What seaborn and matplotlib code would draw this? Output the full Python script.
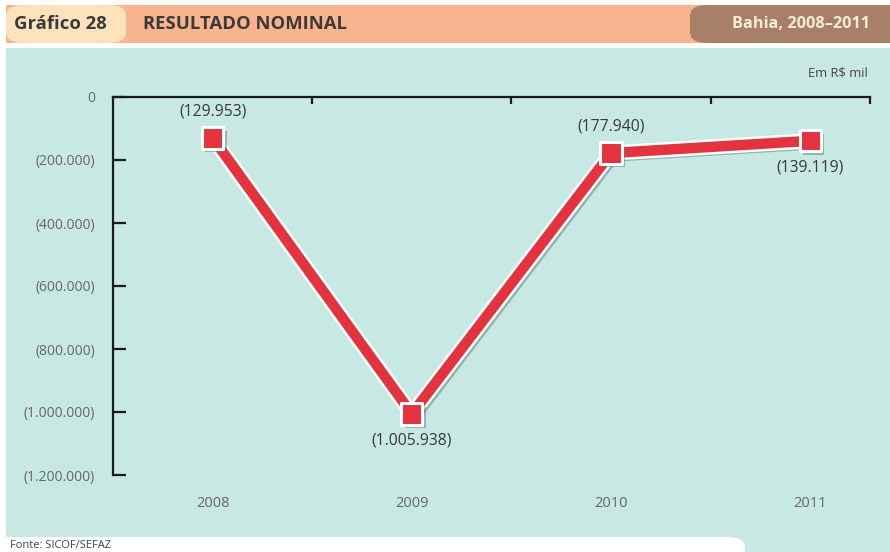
import matplotlib
matplotlib.use("Agg")
import matplotlib.pyplot as plt
import matplotlib.patheffects as pe
from matplotlib.patches import FancyBboxPatch, Rectangle
from matplotlib import font_manager
import seaborn as sns
import pandas as pd

# Data (R$ mil)
years = ["2008", "2009", "2010", "2011"]
values = [-129953, -1005938, -177940, -139119]
label_pos = ["above", "below", "above", "below"]
yticks = [0, -200000, -400000, -600000, -800000, -1000000, -1200000]

W, H = 890, 552


def fx(px):
    return px / W


def fy(py):
    return 1 - py / H


def br(v):
    if v == 0:
        return "0"
    s = f"{abs(int(v)):,}".replace(",", ".")
    return f"({s})"


sns.set_theme(style="white")
names = {f.name for f in font_manager.fontManager.ttflist}
narrow = "Liberation Sans Narrow" if "Liberation Sans Narrow" in names else "Open Sans"
plt.rcParams["font.family"] = [narrow, "DejaVu Sans"]

fig = plt.figure(figsize=(W / 100, H / 100), dpi=100)
fig.patch.set_facecolor("white")

# background shapes
teal = "#c8e8e3"
bg = [
    Rectangle((fx(6), 0), fx(884), 1 - 48 / H, facecolor=teal),
    FancyBboxPatch((fx(-20), fy(575)), fx(765), 38 / H, boxstyle="round,pad=0,rounding_size=0.02",
                   facecolor="white"),
    Rectangle((fx(6), fy(43)), fx(884), 38 / H, facecolor="#f8b48e"),
    FancyBboxPatch((fx(6), fy(43)), fx(120), 38 / H, boxstyle="round,pad=0,rounding_size=0.02",
                   facecolor="#fde2bd"),
    FancyBboxPatch((fx(690), fy(43)), fx(220), 38 / H, boxstyle="round,pad=0,rounding_size=0.02",
                   facecolor="#a88068"),
]
for p in bg:
    p.set_transform(fig.transFigure)
    p.set_edgecolor("none")
    p.set_zorder(-5)
    fig.patches.append(p)

fig.text(fx(14), fy(24), "Gráfico 28", fontsize=13.3, fontweight="bold", color="#3a3a3a",
         va="center", ha="left", family=["Open Sans", "DejaVu Sans"])
fig.text(fx(143), fy(24), "RESULTADO NOMINAL", fontsize=13.3, fontweight="bold", color="#3a3a3a",
         va="center", ha="left", family=["Open Sans", "DejaVu Sans"])
fig.text(fx(870), fy(24), "Bahia, 2008–2011", fontsize=11.7, fontweight="bold", color="#f7ecdc",
         va="center", ha="right", family=["Open Sans", "DejaVu Sans"])
fig.text(fx(868), fy(73), "Em R$ mil", fontsize=9.3, color="#444444", va="center", ha="right")
fig.text(fx(10), fy(546), "Fonte: SICOF/SEFAZ", fontsize=8, color="#444444", va="center", ha="left")

# axes
ax = fig.add_axes([fx(113), fy(475), fx(870 - 113), (475 - 97) / H])
ax.set_facecolor("none")
ax.set_zorder(2)

df = pd.DataFrame({"x": range(len(years)), "y": values})
sns.lineplot(data=df, x="x", y="y", ax=ax, color="#e2333f", linewidth=7.5,
             solid_joinstyle="miter", zorder=5,
             path_effects=[pe.SimpleLineShadow(offset=(2.5, -2.5), shadow_color="#5f7f7a", alpha=0.5),
                           pe.Stroke(linewidth=11, foreground="white"), pe.Normal()])
sns.scatterplot(data=df, x="x", y="y", ax=ax, color="#e2333f", marker="s", s=235,
                edgecolor="white", linewidth=2.2, zorder=6,
                path_effects=[pe.SimplePatchShadow(offset=(2.5, -2.5), shadow_rgbFace="#5f7f7a", alpha=0.5),
                              pe.Normal()])

for i, (v, pos) in enumerate(zip(values, label_pos)):
    if pos == "above":
        ax.annotate(br(v), (i, v), xytext=(0, 13), textcoords="offset points",
                    ha="center", va="bottom", fontsize=11.3, color="#3a3a3a")
    else:
        ax.annotate(br(v), (i, v), xytext=(0, -13.5), textcoords="offset points",
                    ha="center", va="top", fontsize=11.3, color="#3a3a3a")

ax.set_xlim(-0.5, 3.3)
ax.set_ylim(-1200000, 0)
ax.set_xticks(range(len(years)))
ax.set_xticklabels(years)
ax.set_yticks(yticks)
ax.set_yticklabels([br(t) for t in yticks])
ax.set_xlabel("")
ax.set_ylabel("")

for s in ["bottom", "right"]:
    ax.spines[s].set_visible(False)
for s in ["left", "top"]:
    ax.spines[s].set_color("#1a1a1a")
    ax.spines[s].set_linewidth(1.6)

ax.tick_params(axis="y", direction="in", length=9, width=1.6, color="#1a1a1a",
               pad=13, labelsize=10, labelcolor="#666666", left=True)
ax.tick_params(axis="x", length=0, pad=15, labelsize=10.5, labelcolor="#666666")

top = ax.secondary_xaxis("top")
top.set_xticks([0.5, 1.5, 2.5, 3.3])
top.set_xticklabels([])
top.tick_params(direction="in", length=5, width=1.6, color="#1a1a1a")
top.spines["top"].set_visible(False)

fig.savefig("out.png", dpi=100)
